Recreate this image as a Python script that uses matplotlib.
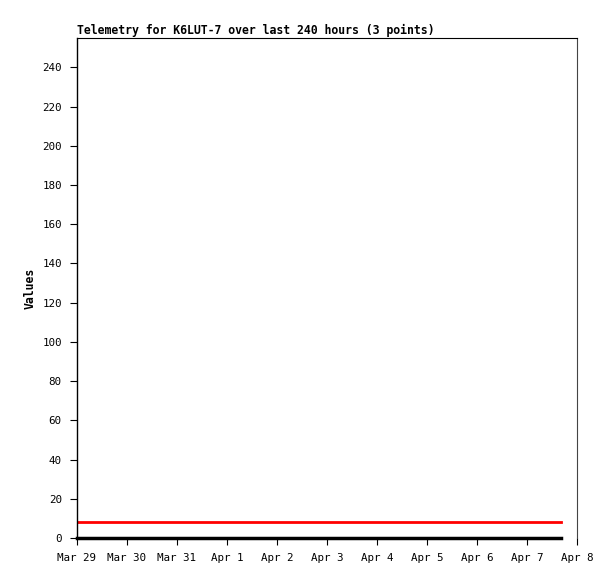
import matplotlib
matplotlib.use("Agg")
import matplotlib.pyplot as plt
import matplotlib.dates as mdates
from datetime import datetime

times = [datetime(2024, 3, 29, 0, 0), datetime(2024, 4, 3, 8, 0), datetime(2024, 4, 7, 16, 20)]
series_red = [8.2, 8.2, 8.2]
series_black = [0, 0, 0]

plt.rcParams['font.family'] = 'DejaVu Sans Mono'

fig = plt.figure(figsize=(6.15, 5.79), dpi=100)
ax = fig.add_axes([77/615, 41/579, 500/615, 500/579])

ax.plot(times, series_red, color='red', linewidth=2)
ax.plot(times, series_black, color='black', linewidth=2.5, clip_on=False, zorder=5)

ax.set_xlim(datetime(2024, 3, 29), datetime(2024, 4, 8))
ax.set_ylim(0, 255)
ax.set_yticks(range(0, 241, 20))
ax.xaxis.set_major_locator(mdates.DayLocator())
ax.xaxis.set_major_formatter(mdates.DateFormatter('%b %-d'))

ax.spines['bottom'].set_visible(False)
ax.spines['left'].set_linewidth(1)
ax.spines['top'].set_linewidth(0.8)
ax.spines['right'].set_color('#444444')
ax.tick_params(length=5, labelsize=7.8, direction='out', pad=6)

ax.set_title("Telemetry for K6LUT-7 over last 240 hours (3 points)", loc='left',
             fontsize=8.3, fontweight='bold', pad=3)
ax.set_ylabel("Values", fontsize=8.3, fontweight='bold', labelpad=4)

fig.savefig("out.png", dpi=100)
